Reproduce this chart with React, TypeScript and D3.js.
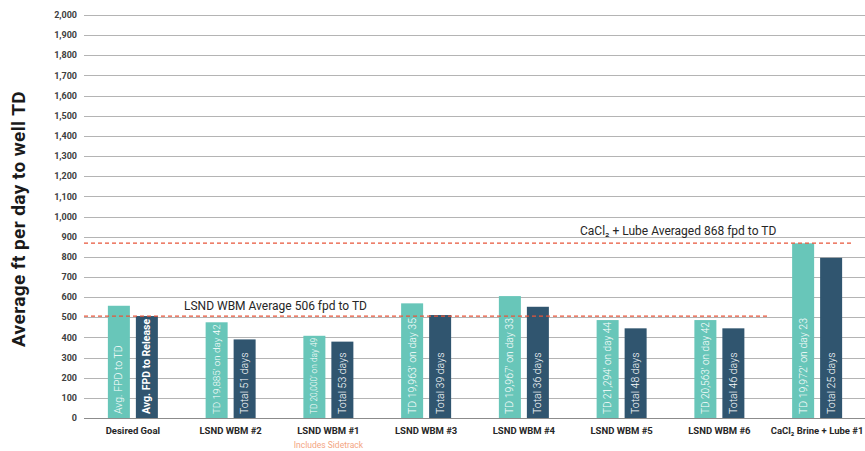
import React, { useEffect, useRef } from "react";
import * as d3 from "d3";

const categories = [
  "Desired Goal",
  "LSND WBM #2",
  "LSND WBM #1",
  "LSND WBM #3",
  "LSND WBM #4",
  "LSND WBM #5",
  "LSND WBM #6",
  "CaCl₂ Brine + Lube #1",
];
const tdValues = [557, 475, 408, 569, 605, 486, 486, 867];
const releaseValues = [506, 390, 379, 511, 552, 445, 445, 795];
const tdLabels = [
  "Avg. FPD to TD",
  "TD 19,885' on day 42",
  "TD 20,000' on day 49",
  "TD 19,963' on day 35",
  "TD 19,967' on day 33",
  "TD 21,294' on day 44",
  "TD 20,563' on day 42",
  "TD 19,972' on day 23",
];
const releaseLabels = [
  "Avg. FPD to Release",
  "Total 51 days",
  "Total 53 days",
  "Total 39 days",
  "Total 36 days",
  "Total 48 days",
  "Total 46 days",
  "Total 25 days",
];
const yTicks = d3.range(0, 2001, 100);
const lsndAverage = 506;
const lsndLabel = "LSND WBM Average 506 fpd to TD";
const caclAverage = 868;
const caclLabel = "CaCl₂ + Lube Averaged 868 fpd to TD";
const subNote = "Includes Sidetrack";
const yTitle = "Average ft per day to well TD";

const W = 865;
const H = 451;
const FONT = "Roboto, 'Liberation Sans', Arial, sans-serif";

export default function App() {
  const ref = useRef<SVGSVGElement>(null);

  useEffect(() => {
    const svg = d3.select(ref.current);
    svg.selectAll("*").remove();

    const y = d3.scaleLinear().domain([0, 2000]).range([418, 15]);
    const x0 = d3.scaleBand<string>().domain(categories).range([84, 866]);
    const half = 25;
    const x1 = d3
      .scaleBand<string>()
      .domain(["td", "rel"])
      .range([x0.bandwidth() / 2 - half, x0.bandwidth() / 2 + half])
      .paddingInner(0.214);

    // grid
    const g = svg.append("g");
    g.selectAll("line.grid")
      .data(yTicks)
      .join("line")
      .attr("x1", 84)
      .attr("x2", 865)
      .attr("y1", (d) => Math.round(y(d)) + 0.5)
      .attr("y2", (d) => Math.round(y(d)) + 0.5)
      .attr("stroke", (d) => (d === 0 ? "#8c8c8c" : "#b4b4b4"))
      .attr("stroke-width", 1);

    g.selectAll("text.tick")
      .data(yTicks)
      .join("text")
      .attr("x", 77)
      .attr("y", (d) => y(d))
      .attr("dy", "0.35em")
      .attr("text-anchor", "end")
      .attr("font-family", FONT)
      .attr("font-size", 9)
      .attr("font-weight", 700)
      .attr("fill", "#404040")
      .text((d) => d3.format(",")(d));

    // y title
    svg
      .append("text")
      .attr("transform", `translate(25,${219}) rotate(-90)`)
      .attr("text-anchor", "middle")
      .attr("font-family", FONT)
      .attr("font-size", 19)
      .attr("font-weight", 700)
      .attr("letter-spacing", 0.4)
      .attr("fill", "#1a1a1a")
      .text(yTitle);

    // bars
    const rows = categories.map((c, i) => ({
      c,
      i,
      bars: [
        { k: "td", v: tdValues[i], label: tdLabels[i], color: "#68c6b9", bold: false },
        { k: "rel", v: releaseValues[i], label: releaseLabels[i], color: "#30556f", bold: i === 0 },
      ],
    }));

    const grp = svg
      .append("g")
      .selectAll("g.cat")
      .data(rows)
      .join("g")
      .attr("transform", (d) => `translate(${x0(d.c)},0)`);

    grp
      .selectAll("rect")
      .data((d) => d.bars)
      .join("rect")
      .attr("x", (d) => x1(d.k)!)
      .attr("width", x1.bandwidth())
      .attr("y", (d) => y(d.v))
      .attr("height", (d) => y(0) - y(d.v))
      .attr("fill", (d) => d.color);

    grp
      .selectAll("text.bl")
      .data((d) => d.bars)
      .join("text")
      .attr("class", "bl")
      .attr("font-family", FONT)
      .attr("font-size", 10.5)
      .attr("font-weight", (d) => (d.bold ? 700 : 300))
      .attr("fill", "#ffffff")
      .attr("text-anchor", "start")
      .attr("dominant-baseline", "central")
      .attr(
        "transform",
        (d) => `translate(${x1(d.k)! + x1.bandwidth() / 2},${y(0) - 4}) rotate(-90)`
      )
      .text((d) => d.label)
      .each(function (d) {
        const el = this as SVGTextElement;
        const len = el.getComputedTextLength();
        const avail = y(0) - y(d.v) - 6;
        if (len > avail) {
          el.setAttribute("font-size", String((10.5 * avail) / len));
        }
      });

    // category labels
    svg
      .append("g")
      .selectAll("text")
      .data(categories)
      .join("text")
      .attr("x", (d) => x0(d)! + x0.bandwidth() / 2)
      .attr("y", 434)
      .attr("text-anchor", "middle")
      .attr("font-family", FONT)
      .attr("font-size", 9.5)
      .attr("font-weight", 700)
      .attr("fill", "#262626")
      .text((d) => d);

    svg
      .append("text")
      .attr("x", x0(categories[2])! + x0.bandwidth() / 2)
      .attr("y", 448)
      .attr("text-anchor", "middle")
      .attr("font-family", FONT)
      .attr("font-size", 8.5)
      .attr("fill", "#f4a582")
      .text(subNote);

    // reference lines
    const refs = [
      { v: lsndAverage, x2: 768, label: lsndLabel, lx: 184, ly: 310 },
      { v: caclAverage, x2: 852, label: caclLabel, lx: 580, ly: 235 },
    ];
    svg
      .append("g")
      .selectAll("line")
      .data(refs)
      .join("line")
      .attr("x1", 84)
      .attr("x2", (d) => d.x2)
      .attr("y1", (d) => y(d.v))
      .attr("y2", (d) => y(d.v))
      .attr("stroke", "#e8553a")
      .attr("stroke-width", 1.3)
      .attr("stroke-dasharray", "4,3");

    svg
      .append("g")
      .selectAll("text")
      .data(refs)
      .join("text")
      .attr("x", (d) => d.lx)
      .attr("y", (d) => d.ly)
      .attr("font-family", FONT)
      .attr("font-size", 12)
      .attr("fill", "#262626")
      .text((d) => d.label);
  }, []);

  return (
    <svg
      ref={ref}
      width={W}
      height={H}
      style={{ position: "absolute", left: 0, top: 0, background: "#fff" }}
    />
  );
}
